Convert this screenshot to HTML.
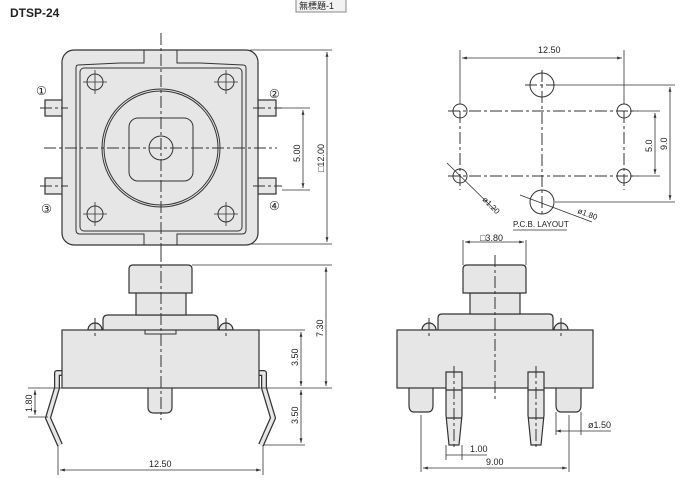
<!DOCTYPE html>
<html><head><meta charset="utf-8"><style>
html,body{margin:0;padding:0;background:#fff;}
svg{display:block;}
text{font-family:"Liberation Sans",sans-serif;fill:#222;}
.f{fill:#e6e6e6;stroke:#333;stroke-width:1.2;}
.l{fill:none;stroke:#333;stroke-width:1;}
.c{fill:none;stroke:#333;stroke-width:1;stroke-dasharray:12 3 3 3;}
.d{fill:none;stroke:#333;stroke-width:0.8;}
.t{font-size:9px;}
.n{font-family:"DejaVu Sans",sans-serif;font-size:12px;}
</style></head><body>
<svg width="690" height="482" viewBox="0 0 690 482" xmlns="http://www.w3.org/2000/svg">
<defs>
<marker id="a" viewBox="0 0 10 10" refX="10" refY="5" markerWidth="6" markerHeight="6" orient="auto-start-reverse"><path d="M0,2 L10,5 L0,8z" fill="#333"/></marker>
</defs>
<text x="10" y="17" style="font-size:12px;font-weight:bold">DTSP-24</text>
<rect x="296" y="-2" width="50" height="14" fill="#f2f2f2" stroke="#888"/>
<text x="299" y="9" style="font-family:'Liberation Sans','Noto Sans CJK TC',sans-serif;font-size:9px">無標題-1</text>

<!-- TOP VIEW -->
<rect x="45" y="100" width="18" height="16" class="f"/>
<rect x="45" y="178" width="18" height="16" class="f"/>
<rect x="258" y="100" width="18" height="16" class="f"/>
<rect x="258" y="178" width="18" height="16" class="f"/>
<rect x="62" y="50" width="196" height="195" rx="12" class="f"/>
<path d="M144,50 V63 H120 L78,65 Q76,65 76,68 V230 Q76,234 80,234 H120 L144,234 V245 M177,50 V63 H200 L243,65 Q246,65 246,68 V230 Q246,234 242,234 H200 L177,234 V245" class="l"/>
<rect x="80" y="68" width="162" height="163" rx="4" class="l"/>
<circle cx="161" cy="148" r="59" class="l"/><circle cx="161" cy="148" r="57" class="l"/>
<rect x="129" y="118" width="64" height="63" rx="9" class="l"/>
<circle cx="161" cy="148" r="12" class="l"/>
<g class="l"><circle cx="95" cy="82" r="8"/><circle cx="226" cy="82" r="8"/><circle cx="95" cy="214" r="8"/><circle cx="226" cy="214" r="8"/></g>
<g class="d"><path d="M83,82h24M95,70v24M214,82h24M226,70v24M83,214h24M95,202v24M214,214h24M226,202v24"/></g>
<path d="M161,33V250M44,148H277" class="c"/>
<path d="M40,108H68M40,186H68M253,108H282M253,186H282" class="c"/>
<text x="36" y="95" class="n">①</text><text x="269" y="98" class="n">②</text>
<text x="41" y="213" class="n">③</text><text x="269" y="210" class="n">④</text>
<path d="M282,108H310M282,190H310M250,50H332M250,244H332" class="d"/>
<path d="M303,110V188" class="d" marker-start="url(#a)" marker-end="url(#a)"/>
<path d="M327,52V242" class="d" marker-start="url(#a)" marker-end="url(#a)"/>
<text transform="translate(300,162) rotate(-90)" class="t">5.00</text>
<text transform="translate(324,172) rotate(-90)" class="t">□12.00</text>

<!-- SIDE VIEW LEFT -->
<polyline points="62,373 57,373 57,388 48,418 60,445" fill="none" stroke="#333" stroke-width="6" stroke-linejoin="round"/>
<polyline points="62,373 57,373 57,388 48,418 60,445" fill="none" stroke="#e6e6e6" stroke-width="3.5" stroke-linejoin="round"/>
<polyline points="259,373 264,373 264,388 273,418 261,445" fill="none" stroke="#333" stroke-width="6" stroke-linejoin="round"/>
<polyline points="259,373 264,373 264,388 273,418 261,445" fill="none" stroke="#e6e6e6" stroke-width="3.5" stroke-linejoin="round"/>
<path d="M148,388V407Q148,413 154,413H166Q172,413 172,407V388" class="f"/>
<path d="M88,330A7,7 0 0 1 102,330Z M219,330A7,7 0 0 1 233,330Z" class="f"/>
<path d="M103,330V320Q103,315 108,315H213Q218,315 218,320V330" class="f"/>
<rect x="136" y="292" width="50" height="23" class="f"/>
<path d="M129,293V269Q129,265 133,265H188Q192,265 192,269V293Z" class="f"/>
<rect x="62" y="330" width="197" height="58" class="f"/>
<rect x="145" y="330" width="31" height="4" class="l"/>
<path d="M161,250V420M95,318V338M226,318V338" class="c"/>
<path d="M192,265H332M259,330H305M259,388H332M264,445H305M28,388H62M28,417H48M58,445V475M263,445V475" class="d"/>
<path d="M326,267V386" class="d" marker-start="url(#a)" marker-end="url(#a)"/>
<path d="M301,332V386" class="d" marker-start="url(#a)" marker-end="url(#a)"/>
<path d="M301,390V443" class="d" marker-start="url(#a)" marker-end="url(#a)"/>
<path d="M35,390V415" class="d" marker-start="url(#a)" marker-end="url(#a)"/>
<path d="M60,470H261" class="d" marker-start="url(#a)" marker-end="url(#a)"/>
<text transform="translate(323,337) rotate(-90)" class="t">7.30</text>
<text transform="translate(298,366) rotate(-90)" class="t">3.50</text>
<text transform="translate(298,424) rotate(-90)" class="t">3.50</text>
<text transform="translate(32,412) rotate(-90)" class="t">1.80</text>
<text x="149" y="467" class="t">12.50</text>

<!-- SIDE VIEW RIGHT -->
<path d="M409,388V405Q409,412 414,412H428Q433,412 433,405V388" class="f"/>
<path d="M556,388V405Q556,412 561,412H576Q581,412 581,405V388" class="f"/>
<path d="M422,330A7,7 0 0 1 436,330Z M554,330A7,7 0 0 1 568,330Z" class="f"/>
<path d="M438,330V318Q438,314 442,314H549Q553,314 553,318V330" class="f"/>
<rect x="470" y="293" width="50" height="21" class="f"/>
<path d="M463,293V269Q463,265 467,265H522Q526,265 526,269V293Z" class="f"/>
<rect x="397" y="330" width="196" height="58" class="f"/>
<path d="M446,372V415L449,445H459L462,415V372Z M446,390H462M446,418H462" class="f"/>
<path d="M528,372V415L531,445H541L544,415V372Z M528,390H544M528,418H544" class="f"/>
<path d="M495,255V402M429,318V338M561,318V338M454,366V450M536,366V450" class="c"/>
<path d="M463,240V265M526,240V265M421,415V472M569,415V472M556,412V435M581,412V435M446,445V460M462,445V460" class="d"/>
<path d="M465,242H524" class="d" marker-start="url(#a)" marker-end="url(#a)"/>
<path d="M423,468H567" class="d" marker-start="url(#a)" marker-end="url(#a)"/>
<path d="M556,431H581M581,431H611" class="d" marker-start="url(#a)"/>
<path d="M446,455H462M462,455H487" class="d"/>
<text x="480" y="241" class="t">□3.80</text>
<text x="486" y="465" class="t">9.00</text>
<text x="470" y="452" class="t">1.00</text>
<text x="588" y="428" class="t">ø1.50</text>

<!-- PCB LAYOUT -->
<path d="M460,111V190M624,111V190M542,70V215M448,111H638M448,176H638M525,85H555" class="c"/>
<path d="M460,50V104M624,50V104M555,85H675M555,202H675M630,111H660M630,176H660" class="d"/>
<path d="M462,58H622" class="d" marker-start="url(#a)" marker-end="url(#a)"/>
<path d="M655,113V174" class="d" marker-start="url(#a)" marker-end="url(#a)"/>
<path d="M670,87V200" class="d" marker-start="url(#a)" marker-end="url(#a)"/>
<g class="l"><circle cx="460" cy="111" r="7"/><circle cx="624" cy="111" r="7"/><circle cx="460" cy="176" r="7"/><circle cx="624" cy="176" r="7"/><circle cx="542" cy="85" r="12"/><circle cx="542" cy="202" r="12"/></g>
<path d="M447,163L495,210M520,195L592,222" class="d"/>
<text x="538" y="53" class="t">12.50</text>
<text transform="translate(652,152) rotate(-90)" class="t">5.0</text>
<text transform="translate(667,150) rotate(-90)" class="t">9.0</text>
<text transform="translate(482,200) rotate(45)" class="t" style="font-size:8px">ø1.20</text>
<text transform="translate(577,213) rotate(20)" class="t" style="font-size:8px">ø1.80</text>
<text x="513" y="227" class="t" style="font-size:8px">P.C.B.  LAYOUT</text>
<path d="M513,230H567" class="d"/>
</svg>
</body></html>
